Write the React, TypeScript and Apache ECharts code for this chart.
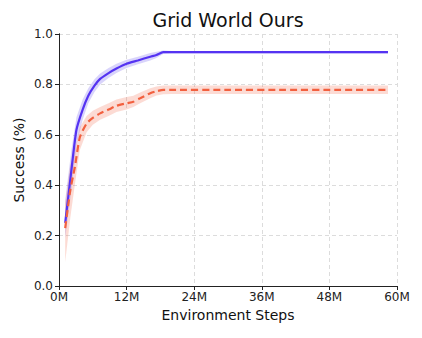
import React, { useEffect, useRef } from "react";
import * as echarts from "echarts";

const title = "Grid World Ours";
const xTicks = ["0M", "12M", "24M", "36M", "48M", "60M"];

const oursSteps = [1.1, 2.2, 3.1, 4.2, 5.2, 6.3, 7.3, 8.8, 10.2, 12, 14, 16.2, 17.3, 18.5, 20, 30, 40, 50, 58.4];
const oursMean = [0.25, 0.46, 0.62, 0.7, 0.755, 0.795, 0.822, 0.845, 0.863, 0.882, 0.895, 0.91, 0.917, 0.928, 0.928, 0.928, 0.928, 0.928, 0.928];
const oursLow = [0.19, 0.38, 0.56, 0.66, 0.725, 0.77, 0.8, 0.825, 0.845, 0.865, 0.88, 0.895, 0.905, 0.921, 0.923, 0.923, 0.923, 0.923, 0.923];
const oursHigh = [0.34, 0.54, 0.67, 0.74, 0.785, 0.82, 0.843, 0.865, 0.882, 0.898, 0.91, 0.925, 0.93, 0.935, 0.933, 0.933, 0.933, 0.933, 0.933];

const baseSteps = [1.1, 2.0, 2.8, 3.7, 4.9, 6.0, 7.3, 8.8, 10.2, 12, 13.2, 14.4, 16.2, 17.3, 18.5, 20, 30, 40, 50, 58.4];
const baseMean = [0.23, 0.38, 0.47, 0.59, 0.645, 0.667, 0.685, 0.7, 0.715, 0.725, 0.731, 0.745, 0.765, 0.773, 0.778, 0.778, 0.778, 0.778, 0.778, 0.778];
const baseLow = [0.095, 0.27, 0.4, 0.54, 0.61, 0.64, 0.66, 0.675, 0.69, 0.7, 0.71, 0.725, 0.745, 0.756, 0.761, 0.762, 0.762, 0.762, 0.762, 0.762];
const baseHigh = [0.33, 0.48, 0.54, 0.63, 0.675, 0.695, 0.71, 0.725, 0.74, 0.75, 0.755, 0.768, 0.785, 0.792, 0.796, 0.796, 0.796, 0.796, 0.796, 0.796];

const FONT = "DejaVu Sans";
const BLUE = "#5533f2";
const ORANGE = "#f2603f";

function band(name: string, steps: number[], low: number[], high: number[], color: string) {
  return {
    name: name + "-band",
    type: "custom",
    silent: true,
    z: 1,
    data: steps.map((s, i) => [s, low[i], high[i]]),
    encode: { x: 0, y: [1, 2] },
    renderItem: (params: any, api: any) => {
      if (params.dataIndex !== 0) return null;
      const pts: number[][] = [];
      for (let i = 0; i < steps.length; i++) pts.push(api.coord([steps[i], high[i]]));
      for (let i = steps.length - 1; i >= 0; i--) pts.push(api.coord([steps[i], low[i]]));
      return {
        type: "polygon",
        shape: { points: pts, smooth: 0 },
        style: { fill: color, stroke: "none" },
      };
    },
  };
}

export default function App() {
  const ref = useRef<HTMLDivElement>(null);
  useEffect(() => {
    if (!ref.current) return;
    const chart = echarts.init(ref.current, null, { renderer: "svg" });
    const axisLabel = { color: "#222", fontSize: 12, fontFamily: FONT };
    const split = { show: true, lineStyle: { color: "#dcdcdc", type: [4, 3] } };
    const tick = { show: true, inside: false, length: 4, lineStyle: { color: "#222" } };
    chart.setOption({
      animation: false,
      backgroundColor: "#fff",
      grid: { left: 59, right: 25, top: 34, bottom: 52 },
      graphic: [
        {
          type: "text",
          x: 228,
          y: 20,
          style: { text: title, fontSize: 19, fontFamily: FONT, fill: "#111", align: "center", verticalAlign: "middle" },
        },
      ],
      xAxis: [
        {
          type: "value",
          min: 0,
          max: 60,
          interval: 12,
          name: "Environment Steps",
          nameLocation: "middle",
          nameGap: 22,
          nameMoveOverlap: false,
          nameTextStyle: { fontSize: 14, fontFamily: FONT, color: "#111" },
          axisLine: { lineStyle: { color: "#222" } },
          axisTick: tick,
          axisLabel: { ...axisLabel, margin: 5, formatter: (v: number) => xTicks[Math.round(v / 12)] },
          splitLine: split,
        },
        {
          type: "value",
          position: "top",
          min: 0,
          max: 60,
          interval: 12,
          axisLine: { show: true, lineStyle: { color: "#222" } },
          axisTick: { show: false },
          axisLabel: { show: false },
          splitLine: { show: false },
        },
      ],
      yAxis: [
        {
          type: "value",
          min: 0,
          max: 1,
          interval: 0.2,
          name: "Success (%)",
          nameLocation: "middle",
          nameGap: 33,
          nameMoveOverlap: false,
          nameTextStyle: { fontSize: 14, fontFamily: FONT, color: "#111" },
          axisLine: { show: true, lineStyle: { color: "#222" } },
          axisTick: tick,
          axisLabel: { ...axisLabel, margin: 6, formatter: (v: number) => v.toFixed(1) },
          splitLine: split,
        },
        {
          type: "value",
          position: "right",
          min: 0,
          max: 1,
          interval: 0.2,
          axisLine: { show: true, lineStyle: { color: "#222" } },
          axisTick: { show: false },
          axisLabel: { show: false },
          splitLine: { show: false },
        },
      ],
      series: [
        band("ours", oursSteps, oursLow, oursHigh, "rgba(120,100,240,0.28)"),
        band("base", baseSteps, baseLow, baseHigh, "rgba(245,110,85,0.25)"),
        {
          name: "Ours",
          type: "line",
          data: oursSteps.map((s, i) => [s, oursMean[i]]),
          symbol: "none",
          smooth: 0.2,
          lineStyle: { color: BLUE, width: 2.2 },
          z: 3,
        },
        {
          name: "Baseline",
          type: "line",
          data: baseSteps.map((s, i) => [s, baseMean[i]]),
          symbol: "none",
          smooth: 0.2,
          lineStyle: { color: ORANGE, width: 2.2, type: [7, 4] },
          z: 3,
        },
      ],
    });
    return () => chart.dispose();
  }, []);
  return <div ref={ref} style={{ position: "absolute", left: 0, top: 0, width: 422, height: 338 }} />;
}
